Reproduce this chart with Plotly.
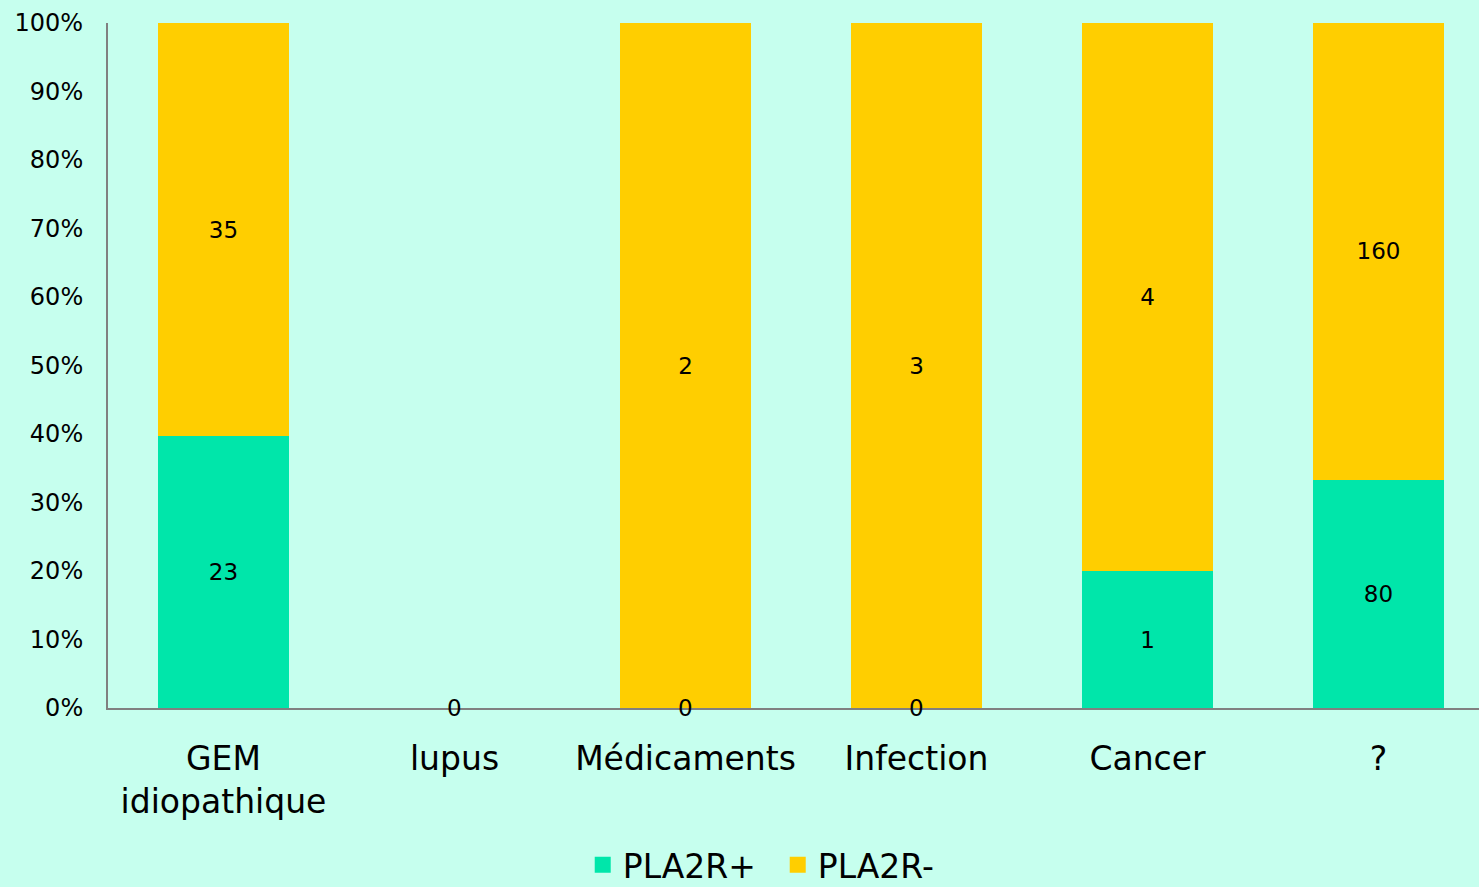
import plotly.graph_objects as go

categories = ["GEM<br>idiopathique", "lupus", "Médicaments", "Infection", "Cancer", "?"]
pla2r_pos = [23, 0, 0, 0, 1, 80]
pla2r_neg = [35, 0, 2, 3, 4, 160]
y_ticks = [0, 10, 20, 30, 40, 50, 60, 70, 80, 90, 100]

FONT = "DejaVu Sans"
BG = "#C6FFEE"
GREEN = "#00E6AA"
YELLOW = "#FFCE00"

series = [("PLA2R+", pla2r_pos, GREEN), ("PLA2R-", pla2r_neg, YELLOW)]

fig = go.Figure()
for name, vals, col in series:
    fig.add_trace(go.Bar(
        x=categories, y=vals, name=name, marker=dict(color=col, line=dict(width=0)),
        text=[str(v) if v != 0 else "" for v in vals], textposition="inside",
        insidetextanchor="middle", textangle=0, constraintext="none",
        textfont=dict(family=FONT, size=23, color="black"), width=0.57,
        showlegend=False,
    ))
# legend entries with larger square keys
for name, vals, col in series:
    fig.add_trace(go.Scatter(
        x=[None], y=[None], name=name, mode="markers",
        marker=dict(symbol="square", size=20, color=col), showlegend=True,
    ))

annotations = []
seen = set()
for vals in (pla2r_pos, pla2r_neg):
    for c, v in zip(categories, vals):
        if v == 0 and c not in seen:
            seen.add(c)
            annotations.append(dict(x=c, y=0, xref="x", yref="y", text="0", showarrow=False,
                                    font=dict(family=FONT, size=23, color="black"),
                                    xanchor="center", yanchor="middle"))

fig.update_layout(
    barmode="stack", barnorm="percent",
    width=1479, height=887,
    margin=dict(l=108, r=0, t=23, b=179, autoexpand=False),
    paper_bgcolor=BG, plot_bgcolor=BG,
    font=dict(family=FONT, color="black"),
    annotations=annotations,
    showlegend=True,
    legend=dict(orientation="h", xref="container", x=0.394, xanchor="left",
                yref="container", y=0.025, yanchor="middle",
                font=dict(family=FONT, size=33), traceorder="normal",
                bgcolor="rgba(0,0,0,0)", itemwidth=30, entrywidth=150),
)
fig.update_xaxes(range=[-0.5, 5.435], showline=True, linecolor="#808080", linewidth=2,
                 ticks="", showgrid=False, tickfont=dict(family=FONT, size=33), zeroline=False,
                 ticklabelstandoff=20, automargin=False)
fig.update_yaxes(range=[0, 100], tickvals=y_ticks, ticktext=[f"{t}%" for t in y_ticks],
                 showline=True, linecolor="#808080", linewidth=2, ticks="", showgrid=False,
                 tickfont=dict(family=FONT, size=24), zeroline=False, ticklabelstandoff=18,
                 automargin=False)

fig.write_html("out.html", config={"displayModeBar": False},
               post_script="document.body.style.margin='0';document.body.style.padding='0';document.body.style.overflow='hidden';")
